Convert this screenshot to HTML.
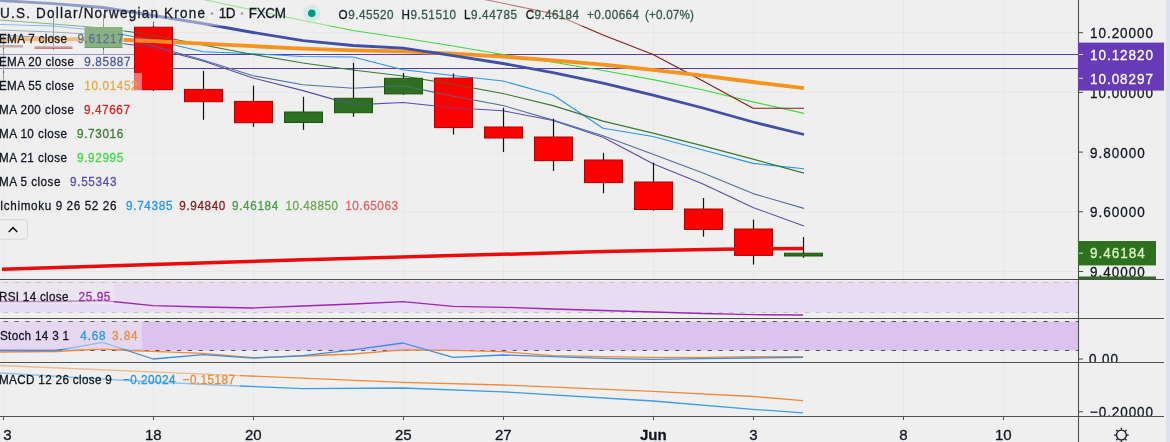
<!DOCTYPE html>
<html><head><meta charset="utf-8"><style>
html,body{margin:0;padding:0;background:#efefef;overflow:hidden;}
svg{display:block;will-change:transform;}
text{-webkit-font-smoothing:antialiased;stroke-width:0.3px;paint-order:stroke;}
</style></head><body>
<svg width="1170" height="442" viewBox="0 0 1170 442">
<rect x="0" y="0" width="1170" height="442" fill="#efefef"/>
<rect x="1166" y="0" width="4" height="442" fill="#dde3ec"/>
<line x1="3.5" y1="0" x2="3.5" y2="416" stroke="#e8e8e8" stroke-width="1"/>
<line x1="153.5" y1="0" x2="153.5" y2="416" stroke="#e8e8e8" stroke-width="1"/>
<line x1="253.5" y1="0" x2="253.5" y2="416" stroke="#e8e8e8" stroke-width="1"/>
<line x1="403.5" y1="0" x2="403.5" y2="416" stroke="#e8e8e8" stroke-width="1"/>
<line x1="503.5" y1="0" x2="503.5" y2="416" stroke="#e8e8e8" stroke-width="1"/>
<line x1="653.5" y1="0" x2="653.5" y2="416" stroke="#e8e8e8" stroke-width="1"/>
<line x1="753.5" y1="0" x2="753.5" y2="416" stroke="#e8e8e8" stroke-width="1"/>
<line x1="903.5" y1="0" x2="903.5" y2="416" stroke="#e8e8e8" stroke-width="1"/>
<line x1="1003.5" y1="0" x2="1003.5" y2="416" stroke="#e8e8e8" stroke-width="1"/>
<line x1="0" y1="32.7" x2="1078" y2="32.7" stroke="#e8e8e8" stroke-width="1"/>
<line x1="0" y1="92.4" x2="1078" y2="92.4" stroke="#e8e8e8" stroke-width="1"/>
<line x1="0" y1="152.1" x2="1078" y2="152.1" stroke="#e8e8e8" stroke-width="1"/>
<line x1="0" y1="211.8" x2="1078" y2="211.8" stroke="#e8e8e8" stroke-width="1"/>
<line x1="0" y1="271.5" x2="1078" y2="271.5" stroke="#e8e8e8" stroke-width="1"/>
<polyline points="2,269.2 153,264.5 303,259.8 453,255.6 603,251.6 720,249.3 804,248.4" fill="none" stroke="#ec0a0a" stroke-width="3.5" stroke-linejoin="round" stroke-linecap="butt" />
<line x1="0" y1="54.5" x2="1078" y2="54.5" stroke="#5a3ca8" stroke-width="1.15"/>
<line x1="0" y1="68.5" x2="1078" y2="68.5" stroke="#5a3ca8" stroke-width="1.15"/>
<g id="mas">
<polyline points="0,35 53,38 103,41 153,47.5 203,61 253,78 303,90.6 353,104.9 403,102.5 453,107.7 503,110.8 553,120.5 603,137.3 653,163.7 703,184 753,207.5 804,226" fill="none" stroke="#5a4bb0" stroke-width="1.1" stroke-linejoin="round" stroke-linecap="butt" />
<polyline points="0,30 53,32 103,35 153,46 203,60 253,75.7 303,84.8 353,88.2 403,85.6 453,96.1 503,105.5 553,120.1 603,135.7 653,154.2 703,173 753,193.6 804,208.4" fill="none" stroke="#50709f" stroke-width="1.1" stroke-linejoin="round" stroke-linecap="butt" />
<polyline points="0,24.5 53,26 103,31 153,40 203,51.8 253,53.7 303,56.5 353,57 403,69.8 453,75.5 503,81 553,95 603,128.2 653,136.5 703,150 753,163.4 804,168.8" fill="none" stroke="#2196f3" stroke-width="1.1" stroke-linejoin="round" stroke-linecap="butt" />
<polyline points="0,20 53,24 103,28 153,35 203,45 253,54.5 303,63 353,70 403,76 453,84.4 503,93.5 553,105.6 603,121.1 653,133.1 703,145.9 753,159.1 804,173.1" fill="none" stroke="#3a7a32" stroke-width="1.1" stroke-linejoin="round" stroke-linecap="butt" />
<polyline points="153,-11 203,-0.5 253,10 303,20.5 353,30.5 403,38 453,46 503,54.5 553,62.3 603,70.5 653,79.6 703,90 753,101.9 804,113.4" fill="none" stroke="#3ddb3d" stroke-width="1.1" stroke-linejoin="round" stroke-linecap="butt" />
<polyline points="453,-7 503,3.3 553,13.6 603,35 653,54.4 703,81 753,108.2 804,108.2" fill="none" stroke="#8b1a1a" stroke-width="1.1" stroke-linejoin="round" stroke-linecap="butt" />
<polyline points="0,39 53,39.3 103,39 153,41.2 203,43.6 253,46.2 303,48.6 353,50.3 403,51.4 453,53.6 503,56.6 553,60.3 603,64.7 653,69.9 703,75.6 753,82 804,88.1" fill="none" stroke="#f7941d" stroke-width="3.8" stroke-linejoin="round" stroke-linecap="butt" id="ema55"/>
<polyline points="0,0.5 53,3.6 103,7.5 153,15.5 203,23.5 253,32.5 303,40.6 353,45.5 403,48.1 453,55.7 503,63.5 553,72.7 603,83.2 653,95.2 703,108 753,122 804,134.5" fill="none" stroke="#3f50a8" stroke-width="2.8" stroke-linejoin="round" stroke-linecap="butt" />
</g>
<line x1="153.5" y1="21.5" x2="153.5" y2="91" stroke="#111" stroke-width="1.2"/>
<rect x="134.5" y="27.2" width="38" height="62.5" fill="#ff0000" stroke="#b00000" stroke-width="1"/>
<line x1="203.5" y1="71" x2="203.5" y2="119.8" stroke="#111" stroke-width="1.2"/>
<rect x="184.5" y="89.4" width="38" height="12.299999999999997" fill="#ff0000" stroke="#b00000" stroke-width="1"/>
<line x1="253.5" y1="85.6" x2="253.5" y2="126.8" stroke="#111" stroke-width="1.2"/>
<rect x="234.5" y="101.4" width="38" height="21.299999999999997" fill="#ff0000" stroke="#b00000" stroke-width="1"/>
<line x1="303.5" y1="96.8" x2="303.5" y2="129.8" stroke="#111" stroke-width="1.2"/>
<rect x="284.5" y="112" width="38" height="10.5" fill="#2e701f" stroke="#1f5514" stroke-width="1"/>
<line x1="353.5" y1="62.8" x2="353.5" y2="116.8" stroke="#111" stroke-width="1.2"/>
<rect x="334.5" y="98.3" width="38" height="14.400000000000006" fill="#2e701f" stroke="#1f5514" stroke-width="1"/>
<line x1="403.5" y1="73" x2="403.5" y2="94.8" stroke="#111" stroke-width="1.2"/>
<rect x="384.5" y="78.3" width="38" height="15.600000000000009" fill="#2e701f" stroke="#1f5514" stroke-width="1"/>
<line x1="453.5" y1="73.5" x2="453.5" y2="134.5" stroke="#111" stroke-width="1.2"/>
<rect x="434.5" y="78.1" width="38" height="49.5" fill="#ff0000" stroke="#b00000" stroke-width="1"/>
<line x1="503.5" y1="107.8" x2="503.5" y2="152" stroke="#111" stroke-width="1.2"/>
<rect x="484.5" y="127" width="38" height="11" fill="#ff0000" stroke="#b00000" stroke-width="1"/>
<line x1="553.5" y1="118.8" x2="553.5" y2="171" stroke="#111" stroke-width="1.2"/>
<rect x="534.5" y="137" width="38" height="23.599999999999994" fill="#ff0000" stroke="#b00000" stroke-width="1"/>
<line x1="603.5" y1="152.8" x2="603.5" y2="193.3" stroke="#111" stroke-width="1.2"/>
<rect x="584.5" y="160" width="38" height="22.599999999999994" fill="#ff0000" stroke="#b00000" stroke-width="1"/>
<line x1="653.5" y1="162.6" x2="653.5" y2="210.7" stroke="#111" stroke-width="1.2"/>
<rect x="634.5" y="182" width="38" height="27.5" fill="#ff0000" stroke="#b00000" stroke-width="1"/>
<line x1="703.5" y1="198" x2="703.5" y2="236.7" stroke="#111" stroke-width="1.2"/>
<rect x="684.5" y="209" width="38" height="20.400000000000006" fill="#ff0000" stroke="#b00000" stroke-width="1"/>
<line x1="753.5" y1="219.6" x2="753.5" y2="264.6" stroke="#111" stroke-width="1.2"/>
<rect x="734.5" y="229" width="38" height="26.400000000000006" fill="#ff0000" stroke="#b00000" stroke-width="1"/>
<line x1="803.5" y1="237" x2="803.5" y2="257.8" stroke="#111" stroke-width="1.2"/>
<rect x="784.5" y="253.2" width="38" height="2.8000000000000114" fill="#2e701f" stroke="#1f5514" stroke-width="1"/>
<line x1="3.5" y1="36" x2="3.5" y2="81" stroke="#555" stroke-width="1"/>
<line x1="53.5" y1="17" x2="53.5" y2="50" stroke="#555" stroke-width="1"/>
<line x1="103.5" y1="14" x2="103.5" y2="55" stroke="#555" stroke-width="1"/>
<rect x="84.5" y="27" width="38" height="21" fill="#2f7a1f"/>
<rect x="-15" y="45" width="38" height="2.4" fill="#98706a"/>
<rect x="34.5" y="46.2" width="38" height="2.6" fill="#c06464"/>
<defs><clipPath id="cb"><rect x="135" y="27.7" width="37" height="61.5"/><rect x="185" y="89.9" width="37" height="11.299999999999997"/><rect x="235" y="101.9" width="37" height="20.299999999999997"/><rect x="285" y="112.5" width="37" height="9.5"/><rect x="335" y="98.8" width="37" height="13.400000000000006"/><rect x="385" y="78.8" width="37" height="14.600000000000009"/><rect x="435" y="78.6" width="37" height="48.5"/><rect x="485" y="127.5" width="37" height="10"/><rect x="535" y="137.5" width="37" height="22.599999999999994"/><rect x="585" y="160.5" width="37" height="21.599999999999994"/><rect x="635" y="182.5" width="37" height="26.5"/><rect x="685" y="209.5" width="37" height="19.400000000000006"/><rect x="735" y="229.5" width="37" height="25.400000000000006"/><rect x="785" y="253.7" width="37" height="1.8000000000000114"/></clipPath></defs>
<use href="#mas" clip-path="url(#cb)" opacity="0.6"/>
<use href="#ema55" clip-path="url(#cb)" opacity="0.8"/>
<rect x="0" y="0" width="700" height="25.7" fill="rgba(239,239,239,0.48)"/>
<rect x="0" y="25.700000000000003" width="124" height="22" fill="rgba(239,239,239,0.48)"/>
<rect x="0" y="49.400000000000006" width="134" height="22" fill="rgba(239,239,239,0.48)"/>
<rect x="0" y="73.0" width="142" height="22" fill="rgba(239,239,239,0.48)"/>
<rect x="0" y="96.7" width="134" height="22" fill="rgba(239,239,239,0.48)"/>
<rect x="0" y="121.1" width="127" height="22" fill="rgba(239,239,239,0.48)"/>
<rect x="0" y="145.3" width="127" height="22" fill="rgba(239,239,239,0.48)"/>
<rect x="0" y="169.1" width="120" height="22" fill="rgba(239,239,239,0.48)"/>
<rect x="0" y="193.1" width="402" height="22" fill="rgba(239,239,239,0.48)"/>
<text transform="scale(0.9,1)" x="-1.11" y="42.7" fill="#131722" stroke="#131722" font-size="13" font-weight="normal" text-anchor="start" font-family="Liberation Sans, sans-serif" textLength="75.56" lengthAdjust="spacing" >EMA 7 close</text>
<text transform="scale(0.9,1)" x="86.00" y="42.7" fill="#5b7099" stroke="#5b7099" font-size="13" font-weight="normal" text-anchor="start" font-family="Liberation Sans, sans-serif" textLength="51.44" lengthAdjust="spacing" >9.61217</text>
<text transform="scale(0.9,1)" x="-1.11" y="66.4" fill="#131722" stroke="#131722" font-size="13" font-weight="normal" text-anchor="start" font-family="Liberation Sans, sans-serif" textLength="83.33" lengthAdjust="spacing" >EMA 20 close</text>
<text transform="scale(0.9,1)" x="93.67" y="66.4" fill="#4a5ba0" stroke="#4a5ba0" font-size="13" font-weight="normal" text-anchor="start" font-family="Liberation Sans, sans-serif" textLength="51.33" lengthAdjust="spacing" >9.85887</text>
<text transform="scale(0.9,1)" x="-1.11" y="90.0" fill="#131722" stroke="#131722" font-size="13" font-weight="normal" text-anchor="start" font-family="Liberation Sans, sans-serif" textLength="83.33" lengthAdjust="spacing" >EMA 55 close</text>
<text transform="scale(0.9,1)" x="93.67" y="90.0" fill="#eda83a" stroke="#eda83a" font-size="13" font-weight="normal" text-anchor="start" font-family="Liberation Sans, sans-serif" textLength="59.22" lengthAdjust="spacing" >10.01452</text>
<text transform="scale(0.9,1)" x="-1.11" y="113.7" fill="#131722" stroke="#131722" font-size="13" font-weight="normal" text-anchor="start" font-family="Liberation Sans, sans-serif" textLength="83.33" lengthAdjust="spacing" >MA 200 close</text>
<text transform="scale(0.9,1)" x="93.33" y="113.7" fill="#e02020" stroke="#e02020" font-size="13" font-weight="normal" text-anchor="start" font-family="Liberation Sans, sans-serif" textLength="51.11" lengthAdjust="spacing" >9.47667</text>
<text transform="scale(0.9,1)" x="-1.11" y="138.1" fill="#131722" stroke="#131722" font-size="13" font-weight="normal" text-anchor="start" font-family="Liberation Sans, sans-serif" textLength="75.56" lengthAdjust="spacing" >MA 10 close</text>
<text transform="scale(0.9,1)" x="85.56" y="138.1" fill="#3a7a32" stroke="#3a7a32" font-size="13" font-weight="normal" text-anchor="start" font-family="Liberation Sans, sans-serif" textLength="51.44" lengthAdjust="spacing" >9.73016</text>
<text transform="scale(0.9,1)" x="-1.11" y="162.3" fill="#131722" stroke="#131722" font-size="13" font-weight="normal" text-anchor="start" font-family="Liberation Sans, sans-serif" textLength="75.56" lengthAdjust="spacing" >MA 21 close</text>
<text transform="scale(0.9,1)" x="85.56" y="162.3" fill="#3ddb3d" stroke="#3ddb3d" font-size="13" font-weight="normal" text-anchor="start" font-family="Liberation Sans, sans-serif" textLength="51.44" lengthAdjust="spacing" >9.92995</text>
<text transform="scale(0.9,1)" x="-1.11" y="186.1" fill="#131722" stroke="#131722" font-size="13" font-weight="normal" text-anchor="start" font-family="Liberation Sans, sans-serif" textLength="68.22" lengthAdjust="spacing" >MA 5 close</text>
<text transform="scale(0.9,1)" x="77.78" y="186.1" fill="#5a4bb0" stroke="#5a4bb0" font-size="13" font-weight="normal" text-anchor="start" font-family="Liberation Sans, sans-serif" textLength="51.67" lengthAdjust="spacing" >9.55343</text>
<text transform="scale(0.9,1)" x="0.00" y="210.1" fill="#131722" stroke="#131722" font-size="13" font-weight="normal" text-anchor="start" font-family="Liberation Sans, sans-serif" textLength="129.44" lengthAdjust="spacing" >Ichimoku 9 26 52 26</text>
<text transform="scale(0.9,1)" x="140.00" y="210.1" fill="#2196f3" stroke="#2196f3" font-size="13" font-weight="normal" text-anchor="start" font-family="Liberation Sans, sans-serif" textLength="51.67" lengthAdjust="spacing" >9.74385</text>
<text transform="scale(0.9,1)" x="199.22" y="210.1" fill="#8b1a1a" stroke="#8b1a1a" font-size="13" font-weight="normal" text-anchor="start" font-family="Liberation Sans, sans-serif" textLength="51.11" lengthAdjust="spacing" >9.94840</text>
<text transform="scale(0.9,1)" x="257.78" y="210.1" fill="#43a047" stroke="#43a047" font-size="13" font-weight="normal" text-anchor="start" font-family="Liberation Sans, sans-serif" textLength="51.44" lengthAdjust="spacing" >9.46184</text>
<text transform="scale(0.9,1)" x="317.11" y="210.1" fill="#6aa84f" stroke="#6aa84f" font-size="13" font-weight="normal" text-anchor="start" font-family="Liberation Sans, sans-serif" textLength="58.44" lengthAdjust="spacing" >10.48850</text>
<text transform="scale(0.9,1)" x="383.67" y="210.1" fill="#e86060" stroke="#e86060" font-size="13" font-weight="normal" text-anchor="start" font-family="Liberation Sans, sans-serif" textLength="58.56" lengthAdjust="spacing" >10.65063</text>
<text transform="scale(0.9,1)" x="0.00" y="18.5" fill="#131722" stroke="#131722" font-size="15" font-weight="normal" text-anchor="start" font-family="Liberation Sans, sans-serif" textLength="227.78" lengthAdjust="spacing" >U.S. Dollar/Norwegian Krone</text>
<circle cx="212" cy="13.5" r="1.3" fill="#999"/>
<text transform="scale(0.9,1)" x="243.11" y="18.5" fill="#131722" stroke="#131722" font-size="15" font-weight="normal" text-anchor="start" font-family="Liberation Sans, sans-serif" textLength="18.56" lengthAdjust="spacing" >1D</text>
<circle cx="242" cy="13.5" r="1.3" fill="#999"/>
<text transform="scale(0.9,1)" x="276.33" y="18.5" fill="#131722" stroke="#131722" font-size="15" font-weight="normal" text-anchor="start" font-family="Liberation Sans, sans-serif" textLength="41.44" lengthAdjust="spacing" >FXCM</text>
<circle cx="311.8" cy="13.2" r="8.5" fill="#d5e9e6"/>
<circle cx="311.8" cy="13.2" r="3.8" fill="#009688"/>
<text transform="scale(0.9,1)" x="376.11" y="18.8" font-size="13" font-family="Liberation Sans, sans-serif" textLength="61.22" lengthAdjust="spacing"><tspan fill="#131722" stroke="#131722">O</tspan><tspan fill="#37584a" stroke="#37584a">9.45520</tspan></text>
<text transform="scale(0.9,1)" x="446.11" y="18.8" font-size="13" font-family="Liberation Sans, sans-serif" textLength="60.56" lengthAdjust="spacing"><tspan fill="#131722" stroke="#131722">H</tspan><tspan fill="#37584a" stroke="#37584a">9.51510</tspan></text>
<text transform="scale(0.9,1)" x="515.56" y="18.8" font-size="13" font-family="Liberation Sans, sans-serif" textLength="58.89" lengthAdjust="spacing"><tspan fill="#131722" stroke="#131722">L</tspan><tspan fill="#37584a" stroke="#37584a">9.44785</tspan></text>
<text transform="scale(0.9,1)" x="584.11" y="18.8" font-size="13" font-family="Liberation Sans, sans-serif" textLength="59.22" lengthAdjust="spacing"><tspan fill="#131722" stroke="#131722">C</tspan><tspan fill="#37584a" stroke="#37584a">9.46184</tspan></text>
<text transform="scale(0.9,1)" x="652.22" y="18.8" fill="#37584a" stroke="#37584a" font-size="13" font-weight="normal" text-anchor="start" font-family="Liberation Sans, sans-serif" textLength="57.78" lengthAdjust="spacing" >+0.00664</text>
<text transform="scale(0.9,1)" x="716.67" y="18.8" fill="#37584a" stroke="#37584a" font-size="13" font-weight="normal" text-anchor="start" font-family="Liberation Sans, sans-serif" textLength="54.44" lengthAdjust="spacing" >(+0.07%)</text>
<rect x="-3" y="219.6" width="30.5" height="19.6" rx="3" fill="#efefef" stroke="#d8d8d8" stroke-width="1"/>
<polyline points="8.7,232 13,227.6 17.3,232" fill="none" stroke="#131722" stroke-width="1.6"/>
<rect x="0" y="281.5" width="1078" height="31" fill="#e8dcf2"/>
<line x1="-7.18" y1="282.5" x2="1078" y2="282.5" stroke="#c4c4c4" stroke-width="1" stroke-dasharray="4.3,6.53"/>
<line x1="-7.18" y1="312.5" x2="1078" y2="312.5" stroke="#c4c4c4" stroke-width="1" stroke-dasharray="4.3,6.53"/>
<polyline points="0,301.5 53,301.5 103,300.5 153,305.7 203,307 253,308 303,306 353,304 403,301.7 453,306.3 503,307.3 553,309 603,310.5 653,312 703,313.5 753,314.7 803,315" fill="none" stroke="#9c27b0" stroke-width="1.3" stroke-linejoin="round" stroke-linecap="butt" />
<rect x="0" y="283" width="114" height="21" fill="rgba(239,239,239,0.48)"/>
<text transform="scale(0.9,1)" x="-1.11" y="300.6" fill="#131722" stroke="#131722" font-size="13" font-weight="normal" text-anchor="start" font-family="Liberation Sans, sans-serif" textLength="77.11" lengthAdjust="spacing" >RSI 14 close</text>
<text transform="scale(0.9,1)" x="87.33" y="300.6" fill="#9c27b0" stroke="#9c27b0" font-size="13" font-weight="normal" text-anchor="start" font-family="Liberation Sans, sans-serif" textLength="35.22" lengthAdjust="spacing" >25.95</text>
<rect x="0" y="321.5" width="1078" height="29" fill="#dcc2ef"/>
<line x1="-7.18" y1="321.5" x2="1078" y2="321.5" stroke="#555" stroke-width="1" stroke-dasharray="4.3,6.53"/>
<line x1="-7.18" y1="350.5" x2="1078" y2="350.5" stroke="#555" stroke-width="1" stroke-dasharray="4.3,6.53"/>
<polyline points="0,352 56,351.5 102,348.8 128,350.5 153,351.3 203,353.3 253,357.6 303,356 353,354 403,349.8 453,350.3 503,351.7 553,355.7 603,356.7 653,357.3 703,357.3 753,356.7 803,356.7" fill="none" stroke="#f08a3a" stroke-width="1.3" stroke-linejoin="round" stroke-linecap="butt" />
<polyline points="0,350.5 56,350.5 102.6,342.4 153,359 203,354.7 253,358.2 303,355.6 353,349.8 403,343 453,357.4 503,355 553,356.7 603,358.3 653,359.3 703,358.7 753,358 803,357.3" fill="none" stroke="#3d8ee0" stroke-width="1.3" stroke-linejoin="round" stroke-linecap="butt" />
<rect x="0" y="321.7" width="142" height="27.1" fill="rgba(239,239,239,0.48)"/>
<text transform="scale(0.9,1)" x="0.00" y="339.8" fill="#131722" stroke="#131722" font-size="13" font-weight="normal" text-anchor="start" font-family="Liberation Sans, sans-serif" textLength="76.67" lengthAdjust="spacing" >Stoch 14 3 1</text>
<text transform="scale(0.9,1)" x="89.22" y="339.8" fill="#2196f3" stroke="#2196f3" font-size="13" font-weight="normal" text-anchor="start" font-family="Liberation Sans, sans-serif" textLength="28.11" lengthAdjust="spacing" >4.68</text>
<text transform="scale(0.9,1)" x="124.44" y="339.8" fill="#f08a3a" stroke="#f08a3a" font-size="13" font-weight="normal" text-anchor="start" font-family="Liberation Sans, sans-serif" textLength="28.44" lengthAdjust="spacing" >3.84</text>
<polyline points="0,365.5 240,375.6 403,382.4 503,385 653,391.4 753,396.5 803,400.7" fill="none" stroke="#f08a3a" stroke-width="1.3" stroke-linejoin="round" stroke-linecap="butt" />
<polyline points="0,373 153,382 240,386 303,388.7 403,388 503,391.8 653,401 753,409.3 803,412.8" fill="none" stroke="#3d9be8" stroke-width="1.3" stroke-linejoin="round" stroke-linecap="butt" />
<rect x="0" y="363" width="240" height="26" fill="rgba(239,239,239,0.48)"/>
<text transform="scale(0.9,1)" x="-1.11" y="383.6" fill="#131722" stroke="#131722" font-size="13" font-weight="normal" text-anchor="start" font-family="Liberation Sans, sans-serif" textLength="125.33" lengthAdjust="spacing" >MACD 12 26 close 9</text>
<text transform="scale(0.9,1)" x="136.67" y="383.6" fill="#2196f3" stroke="#2196f3" font-size="13" font-weight="normal" text-anchor="start" font-family="Liberation Sans, sans-serif" textLength="58.22" lengthAdjust="spacing" >−0.20024</text>
<text transform="scale(0.9,1)" x="202.89" y="383.6" fill="#f08a3a" stroke="#f08a3a" font-size="13" font-weight="normal" text-anchor="start" font-family="Liberation Sans, sans-serif" textLength="58.22" lengthAdjust="spacing" >−0.15187</text>
<line x1="0" y1="279.5" x2="1164" y2="279.5" stroke="#505050" stroke-width="1.1"/>
<line x1="0" y1="318.5" x2="1164" y2="318.5" stroke="#505050" stroke-width="1.1"/>
<line x1="0" y1="362.5" x2="1164" y2="362.5" stroke="#505050" stroke-width="1.1"/>
<line x1="0" y1="416.5" x2="1164" y2="416.5" stroke="#505050" stroke-width="1.1"/>
<line x1="1078.5" y1="0" x2="1078.5" y2="442" stroke="#505050" stroke-width="1.1"/>
<line x1="1079" y1="32.7" x2="1083" y2="32.7" stroke="#4a4a4a" stroke-width="1"/>
<g clip-path="url(#c0)">
<text transform="scale(0.9,1)" x="1211.11" y="38.300000000000004" fill="#131722" stroke="#131722" font-size="15" font-weight="normal" text-anchor="start" font-family="Liberation Sans, sans-serif" textLength="70.00" lengthAdjust="spacing" >10.20000</text>
</g>
<line x1="1079" y1="92.4" x2="1083" y2="92.4" stroke="#4a4a4a" stroke-width="1"/>
<g clip-path="url(#c0)">
<text transform="scale(0.9,1)" x="1211.11" y="98.0" fill="#131722" stroke="#131722" font-size="15" font-weight="normal" text-anchor="start" font-family="Liberation Sans, sans-serif" textLength="70.00" lengthAdjust="spacing" >10.00000</text>
</g>
<line x1="1079" y1="152.1" x2="1083" y2="152.1" stroke="#4a4a4a" stroke-width="1"/>
<g clip-path="url(#c0)">
<text transform="scale(0.9,1)" x="1211.11" y="157.7" fill="#131722" stroke="#131722" font-size="15" font-weight="normal" text-anchor="start" font-family="Liberation Sans, sans-serif" textLength="60.78" lengthAdjust="spacing" >9.80000</text>
</g>
<line x1="1079" y1="211.8" x2="1083" y2="211.8" stroke="#4a4a4a" stroke-width="1"/>
<g clip-path="url(#c0)">
<text transform="scale(0.9,1)" x="1211.11" y="217.4" fill="#131722" stroke="#131722" font-size="15" font-weight="normal" text-anchor="start" font-family="Liberation Sans, sans-serif" textLength="60.78" lengthAdjust="spacing" >9.60000</text>
</g>
<line x1="1079" y1="271.5" x2="1083" y2="271.5" stroke="#4a4a4a" stroke-width="1"/>
<g clip-path="url(#c0)">
<text transform="scale(0.9,1)" x="1211.11" y="277.1" fill="#131722" stroke="#131722" font-size="15" font-weight="normal" text-anchor="start" font-family="Liberation Sans, sans-serif" textLength="60.78" lengthAdjust="spacing" >9.40000</text>
</g>
<rect x="1078" y="42.6" width="86" height="48" fill="#673ab7"/>
<line x1="1079" y1="54.5" x2="1083" y2="54.5" stroke="#ddd" stroke-width="1"/>
<line x1="1079" y1="78.3" x2="1083" y2="78.3" stroke="#ddd" stroke-width="1"/>
<text transform="scale(0.9,1)" x="1211.11" y="60.2" fill="#ffffff" stroke="#ffffff" font-size="15" font-weight="normal" text-anchor="start" font-family="Liberation Sans, sans-serif" textLength="70.00" lengthAdjust="spacing" >10.12820</text>
<text transform="scale(0.9,1)" x="1211.11" y="83.6" fill="#ffffff" stroke="#ffffff" font-size="15" font-weight="normal" text-anchor="start" font-family="Liberation Sans, sans-serif" textLength="70.00" lengthAdjust="spacing" >10.08297</text>
<rect x="1078" y="241" width="78" height="24.4" fill="#2d701e"/>
<line x1="1079" y1="253.2" x2="1083" y2="253.2" stroke="#ddd" stroke-width="1"/>
<text transform="scale(0.9,1)" x="1211.11" y="258.4" fill="#dcf5c4" stroke="#dcf5c4" font-size="15" font-weight="normal" text-anchor="start" font-family="Liberation Sans, sans-serif" textLength="60.78" lengthAdjust="spacing" >9.46184</text>
<rect x="1078" y="276.5" width="78" height="2.5" fill="#2f6a24"/>
<line x1="1079" y1="359" x2="1083" y2="359" stroke="#4a4a4a" stroke-width="1"/>
<defs><clipPath id="c1"><rect x="1079" y="319" width="85" height="43"/></clipPath><clipPath id="c2"><rect x="1079" y="363" width="85" height="53"/></clipPath><clipPath id="c0"><rect x="1079" y="0" width="85" height="278.5"/></clipPath></defs>
<g clip-path="url(#c1)">
<text transform="scale(0.9,1)" x="1210.00" y="364.2" fill="#131722" stroke="#131722" font-size="15" font-weight="normal" text-anchor="start" font-family="Liberation Sans, sans-serif" textLength="32.22" lengthAdjust="spacing" >0.00</text>
</g>
<line x1="1079" y1="411.8" x2="1083" y2="411.8" stroke="#4a4a4a" stroke-width="1"/>
<g clip-path="url(#c2)">
<text transform="scale(0.9,1)" x="1211.11" y="417" fill="#131722" stroke="#131722" font-size="15" font-weight="normal" text-anchor="start" font-family="Liberation Sans, sans-serif" textLength="70.00" lengthAdjust="spacing" >−0.20000</text>
</g>
<rect x="1079" y="363" width="85" height="0" fill="#efefef"/>
<line x1="3.5" y1="417" x2="3.5" y2="420" stroke="#4a4a4a" stroke-width="1"/>
<line x1="153.5" y1="417" x2="153.5" y2="420" stroke="#4a4a4a" stroke-width="1"/>
<line x1="253.5" y1="417" x2="253.5" y2="420" stroke="#4a4a4a" stroke-width="1"/>
<line x1="403.5" y1="417" x2="403.5" y2="420" stroke="#4a4a4a" stroke-width="1"/>
<line x1="503.5" y1="417" x2="503.5" y2="420" stroke="#4a4a4a" stroke-width="1"/>
<line x1="653.5" y1="417" x2="653.5" y2="420" stroke="#4a4a4a" stroke-width="1"/>
<line x1="753.5" y1="417" x2="753.5" y2="420" stroke="#4a4a4a" stroke-width="1"/>
<line x1="903.5" y1="417" x2="903.5" y2="420" stroke="#4a4a4a" stroke-width="1"/>
<line x1="1003.5" y1="417" x2="1003.5" y2="420" stroke="#4a4a4a" stroke-width="1"/>
<text x="7.5" y="440.4" fill="#131722" stroke="#131722" font-size="15" font-weight="normal" text-anchor="middle" font-family="Liberation Sans, sans-serif" >3</text>
<text x="153.3" y="440.4" fill="#131722" stroke="#131722" font-size="15" font-weight="normal" text-anchor="middle" font-family="Liberation Sans, sans-serif" >18</text>
<text x="253.3" y="440.4" fill="#131722" stroke="#131722" font-size="15" font-weight="normal" text-anchor="middle" font-family="Liberation Sans, sans-serif" >20</text>
<text x="403.3" y="440.4" fill="#131722" stroke="#131722" font-size="15" font-weight="normal" text-anchor="middle" font-family="Liberation Sans, sans-serif" >25</text>
<text x="503.3" y="440.4" fill="#131722" stroke="#131722" font-size="15" font-weight="normal" text-anchor="middle" font-family="Liberation Sans, sans-serif" >27</text>
<text x="653.3" y="440.4" fill="#131722" stroke="#131722" font-size="15" font-weight="bold" text-anchor="middle" font-family="Liberation Sans, sans-serif" >Jun</text>
<text x="753.3" y="440.4" fill="#131722" stroke="#131722" font-size="15" font-weight="normal" text-anchor="middle" font-family="Liberation Sans, sans-serif" >3</text>
<text x="903.3" y="440.4" fill="#131722" stroke="#131722" font-size="15" font-weight="normal" text-anchor="middle" font-family="Liberation Sans, sans-serif" >8</text>
<text x="1003.3" y="440.4" fill="#131722" stroke="#131722" font-size="15" font-weight="normal" text-anchor="middle" font-family="Liberation Sans, sans-serif" >10</text>
<g transform="translate(1121.4,435.1)" fill="none" stroke="#131722" stroke-width="1.3"><circle r="4.9"/><line x1="0" y1="-5.5" x2="0" y2="-7.3"/><line x1="0" y1="5.5" x2="0" y2="7.3"/><line x1="-5.5" y1="0" x2="-7.3" y2="0"/><line x1="5.5" y1="0" x2="7.3" y2="0"/><line x1="3.9" y1="3.9" x2="5.1" y2="5.1"/><line x1="-3.9" y1="3.9" x2="-5.1" y2="5.1"/><line x1="3.9" y1="-3.9" x2="5.1" y2="-5.1"/><line x1="-3.9" y1="-3.9" x2="-5.1" y2="-5.1"/></g>
</svg>
</body></html>
